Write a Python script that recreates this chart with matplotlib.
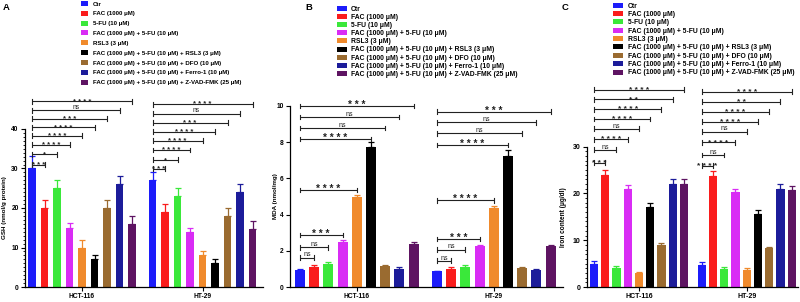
import matplotlib
matplotlib.use('Agg')
import matplotlib.pyplot as plt
import numpy as np
from matplotlib.ticker import FixedLocator

plt.rcParams['font.family'] = ['Liberation Sans', 'DejaVu Sans']
plt.rcParams['font.weight'] = 'bold'

groups = ['HCT-116', 'HT-29']
treatments = ['Ctr', 'FAC (1000 μM)', '5-FU (10 μM)', 'FAC (1000 μM) + 5-FU (10 μM)', 'RSL3 (3 μM)',
              'FAC (1000 μM) + 5-FU (10 μM) + RSL3 (3 μM)',
              'FAC (1000 μM) + 5-FU (10 μM) + DFO (10 μM)',
              'FAC (1000 μM) + 5-FU (10 μM) + Ferro-1 (10 μM)',
              'FAC (1000 μM) + 5-FU (10 μM) + Z-VAD-FMK (25 μM)']
colors = ['#1c1cfa', '#fa1c1c', '#3ae83a', '#d92cf5', '#f08a2c', '#000000', '#9a6b30', '#1c1c9a', '#5e1462']

# Panel A: GSH (nmol/g protein)
gsh_hct = [30, 20, 25, 15, 10, 7, 20, 26, 16]
gsh_hct_err = [3.2, 2, 2, 1.2, 2, 1.1, 2, 2, 2]
gsh_ht = [27, 19, 23, 14, 8, 6, 18, 24, 14.7]
gsh_ht_err = [2, 2, 2, 1, 1, 1, 2, 2, 2]
gsh_sig_hct = [(1, 31.0, '***'), (2, 33.6, '*'), (3, 36.0, '****'), (4, 38.3, '****'),
               (5, 40.4, '****'), (6, 42.6, '***'), (7, 44.7, 'ns'), (8, 47.0, '****')]
gsh_sig_ht = [(1, 29.9, '***'), (2, 32.2, '*'), (3, 34.7, '****'), (4, 37.0, '****'),
              (5, 39.3, '****'), (6, 41.6, '***'), (7, 43.9, 'ns'), (8, 46.3, '****')]

# Panel B: MDA (nmol/mg)
mda_hct = [0.92, 1.1, 1.27, 2.47, 4.95, 7.75, 1.14, 1.0, 2.4]
mda_hct_err = [0.06, 0.1, 0.1, 0.12, 0.15, 0.25, 0.06, 0.1, 0.1]
mda_ht = [0.86, 1.0, 1.1, 2.25, 4.38, 7.25, 1.07, 0.95, 2.25]
mda_ht_err = [0.04, 0.1, 0.12, 0.08, 0.12, 0.3, 0.06, 0.05, 0.06]
mda_sig_hct = [(1, 1.62, 'ns'), (2, 2.19, 'ns'), (3, 2.87, '***'), (4, 5.36, '****'),
               (5, 8.18, '****'), (6, 8.79, 'ns'), (7, 9.39, 'ns'), (8, 10.0, '***')]
mda_sig_ht = [(1, 1.45, 'ns'), (2, 2.06, 'ns'), (3, 2.65, '***'), (4, 4.8, '****'),
              (5, 7.85, '****'), (6, 8.49, 'ns'), (7, 9.1, 'ns'), (8, 9.69, '***')]

# Panel C: Iron content (μg/dl)
iron_hct = [4.9, 23.9, 4.0, 20.9, 3.0, 17.0, 8.9, 22.0, 22.0]
iron_hct_err = [0.6, 1.0, 0.4, 1.0, 0.2, 1.0, 0.5, 1.0, 1.0]
iron_ht = [4.8, 23.8, 3.9, 20.4, 3.7, 15.7, 8.3, 21.0, 20.7]
iron_ht_err = [0.5, 0.9, 0.3, 0.6, 0.4, 0.7, 0.3, 1.0, 0.8]
iron_sig_hct = [(1, 26.6, '***'), (2, 29.3, 'ns'), (3, 31.6, '****'), (4, 33.8, 'ns'),
                (5, 35.9, '****'), (6, 38.0, '****'), (7, 40.1, '**'), (8, 42.2, '****')]
iron_sig_ht = [(1, 25.9, '****'), (2, 28.2, 'ns'), (3, 30.9, '****'), (4, 33.2, 'ns'),
               (5, 35.3, '****'), (6, 37.5, '****'), (7, 39.6, '**'), (8, 41.7, '****')]

W, H = 800, 302
fig = plt.figure(figsize=(8, 3.02), dpi=100)


def panel(x0, x1, base, top, ppu, gap, xleft, xright, vals, errs, sigs, ymaxspine,
          major, minor, width, ylabel, ylabx, star_fs, ns_fs, star_sp, tick_fs):
    ax = fig.add_axes([x0 / W, (H - base) / H, (x1 - x0) / W, (base - top) / H])
    n = len(treatments)
    offsets = [0, n - 1 + gap]
    for gi in range(2):
        pos = np.arange(n) + offsets[gi]
        for i in range(n):
            ax.bar(pos[i], vals[gi][i], width=width, color=colors[i],
                   label=treatments[i] if gi == 0 else None, zorder=2)
            ax.errorbar(pos[i], vals[gi][i], yerr=[[0], [errs[gi][i]]], color=colors[i],
                        capsize=2.2, elinewidth=0.9, capthick=0.9, zorder=1)
        th = 2.4 / ppu
        for (j, y, lab) in sigs[gi]:
            xa, xb = pos[0], pos[j]
            ax.plot([xa, xb], [y, y], color='#222222', lw=0.8, clip_on=False, solid_capstyle='butt')
            for xx in (xa, xb):
                ax.plot([xx, xx], [y - th, y + th], color='#222222', lw=0.8, clip_on=False)
            if lab == 'ns':
                ax.annotate(lab, xy=((xa + xb) / 2, y), xytext=(0, 0.9), textcoords='offset points',
                            ha='center', va='baseline', fontsize=ns_fs, fontweight='normal',
                            color='#222222', annotation_clip=False)
            else:
                txt = (' ' * star_sp).join(lab)
                ax.annotate(txt, xy=((xa + xb) / 2, y), xytext=(0, -1.6), textcoords='offset points',
                            ha='center', va='baseline', fontsize=star_fs, fontweight='bold',
                            color='#222222', annotation_clip=False)
    ax.set_xlim(xleft, xright)
    ax.set_ylim(0, (base - top) / ppu)
    ax.spines['top'].set_visible(False)
    ax.spines['right'].set_visible(False)
    ax.spines['left'].set_bounds(0, ymaxspine)
    for s in ('left', 'bottom'):
        ax.spines[s].set_linewidth(0.9)
    ax.set_yticks(np.arange(0, ymaxspine + 0.01, major))
    if minor:
        ax.yaxis.set_minor_locator(FixedLocator(np.arange(0, ymaxspine + 0.01, minor)))
    ax.set_xticks([(n - 1) / 2, offsets[1] + (n - 1) / 2])
    ax.set_xticklabels(groups)
    ax.tick_params(axis='both', labelsize=tick_fs, width=0.8, length=3, pad=1.5)
    ax.tick_params(axis='y', which='minor', width=0.6, length=1.8)
    ax.set_ylabel(ylabel, fontsize=tick_fs - 0.3, fontweight='bold')
    ax.yaxis.set_label_coords(ylabx, ymaxspine / 2 / ((base - top) / ppu))
    return ax


axA = panel(25, 263, 287, 95, 3.95, 1.64, -0.56, 18.48,
            [gsh_hct, gsh_ht], [gsh_hct_err, gsh_ht_err], [gsh_sig_hct, gsh_sig_ht],
            40, 10, 1, 0.62, 'GSH (nmol/g protein)', -0.076, 5.5, 4.8, 1, 4.8)
axB = panel(290, 563, 287, 100, 18.1, 1.65, -0.70, 18.52,
            [mda_hct, mda_ht], [mda_hct_err, mda_ht_err], [mda_sig_hct, mda_sig_ht],
            10, 2, None, 0.70, 'MDA (nmol/mg)', -0.044, 7.2, 5.0, 1, 4.8)
axC = panel(587, 798, 287, 85, 4.68, 1.57, -0.62, 18.13,
            [iron_hct, iron_ht], [iron_hct_err, iron_ht_err], [iron_sig_hct, iron_sig_ht],
            30, 10, 1, 0.74, 'Iron content (μg/dl)', -0.096, 6.0, 5.0, 1, 5.0)


def legend(ax, xpx, ypx, fs, hl, hh, ls, tp):
    ax.legend(loc='upper left', bbox_to_anchor=(xpx / W, 1 - ypx / H), bbox_transform=fig.transFigure,
              frameon=False, handlelength=hl, handleheight=hh, labelspacing=ls,
              handletextpad=tp, borderpad=0, borderaxespad=0,
              prop={'weight': 'bold', 'size': fs})


legend(axA, 81, 1.0, 4.4, 1.15, 0.85, 0.7, 0.8)
legend(axB, 336.7, 6.0, 4.9, 1.45, 0.75, 0.16, 0.65)
legend(axC, 613.3, 2.5, 4.9, 1.45, 0.75, 0.2, 0.65)

for lab, xp in (('A', 2.5), ('B', 305), ('C', 561.5)):
    fig.text(xp / W, 1 - 3 / H, lab, fontsize=6.8, fontweight='bold', ha='left', va='top')

fig.savefig('out.png', dpi=100)
